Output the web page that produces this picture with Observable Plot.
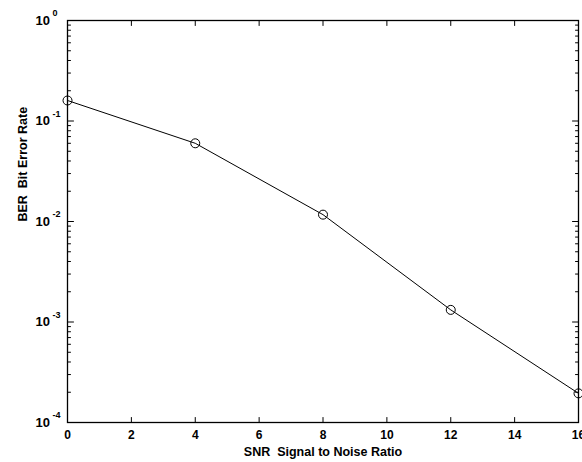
<!DOCTYPE html>
<html><head><meta charset="utf-8">
<script src="https://cdn.jsdelivr.net/npm/d3@7"></script>
<script src="https://cdn.jsdelivr.net/npm/@observablehq/plot@0.6"></script>
<style>
body{margin:0;background:#fff;}
#chart svg{font-family:"Liberation Sans",Arial,sans-serif;color:#000;}
</style>
</head><body><div id="chart"></div>
<script>
const snr = [0, 4, 8, 12, 16];
const ber = [0.16, 0.060, 0.0117, 0.00132, 0.000195];
const xTicks = [0, 2, 4, 6, 8, 10, 12, 14, 16];
const yMajor = [1e-4, 1e-3, 1e-2, 1e-1, 1];
const yExp = ["-4", "-3", "-2", "-1", "0"];
const xLabel = "SNR\u00a0 Signal to Noise Ratio";
const yLabel = "BER\u00a0 Bit Error Rate";

const yMinor = [];
for (let k = -4; k < 0; k++) for (let m = 2; m <= 9; m++) yMinor.push(m * Math.pow(10, k));

const data = snr.map((s, i) => ({snr: s, ber: ber[i]}));
const tickShape = {draw(context, l) { context.moveTo(0, 0); context.lineTo(0, -l); }};
const tk = {shape: tickShape, anchor: "start", stroke: "#000", strokeWidth: 1};

const chart = Plot.plot({
  width: 582, height: 462,
  marginLeft: 67, marginRight: 4, marginTop: 20, marginBottom: 40,
  style: {background: "#fff", color: "#000", fontFamily: "Liberation Sans, Arial, sans-serif"},
  x: {domain: [0, 16], label: null},
  y: {type: "log", domain: [1e-4, 1], label: null, axis: null},
  marks: [
    Plot.axisX(xTicks, {anchor: "bottom", tickSize: 0, tickPadding: 8, fontSize: 12, fontWeight: "bold", label: null}),
    Plot.vector(xTicks, {x: d => d, frameAnchor: "bottom", rotate: 0, length: 5, ...tk}),
    Plot.vector(xTicks, {x: d => d, frameAnchor: "top", rotate: 180, length: 5, ...tk}),
    Plot.vector(yMajor, {y: d => d, frameAnchor: "left", rotate: 90, length: 6, ...tk}),
    Plot.vector(yMajor, {y: d => d, frameAnchor: "right", rotate: -90, length: 6, ...tk}),
    Plot.vector(yMinor, {y: d => d, frameAnchor: "left", rotate: 90, length: 3, ...tk}),
    Plot.vector(yMinor, {y: d => d, frameAnchor: "right", rotate: -90, length: 3, ...tk}),
    Plot.text(yMajor, {frameAnchor: "left", y: d => d, text: () => "10", textAnchor: "start", dx: -32, fontSize: 13, fontWeight: "bold", fill: "#000"}),
    Plot.text(yMajor, {frameAnchor: "left", y: d => d, text: (d, i) => yExp[i], textAnchor: "start", dx: -15, dy: -7, fontSize: 9, fontWeight: "bold", fill: "#000"}),
    Plot.frame({stroke: "#000", strokeWidth: 1.3}),
    Plot.line(data, {x: "snr", y: "ber", stroke: "#000", strokeWidth: 1}),
    Plot.dot(data, {x: "snr", y: "ber", r: 4.5, stroke: "#000", fill: "none", strokeWidth: 1}),
    Plot.text([xLabel], {frameAnchor: "bottom", dy: 33, text: d => d, fontSize: 12.5, fontWeight: "bold", fill: "#000"}),
    Plot.text([yLabel], {frameAnchor: "left", dx: -45, rotate: -90, text: d => d, fontSize: 12.5, fontWeight: "bold", fill: "#000"})
  ]
});
document.getElementById("chart").appendChild(chart);
</script>
</body></html>
